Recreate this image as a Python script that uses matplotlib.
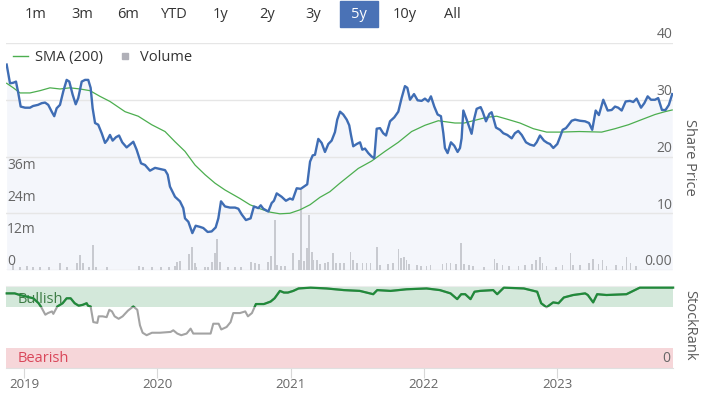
import numpy as np
import matplotlib
matplotlib.use("Agg")
import matplotlib.pyplot as plt
from matplotlib.patches import Rectangle
from matplotlib.lines import Line2D

plt.rcParams['font.family'] = ['Open Sans', 'DejaVu Sans']

# share price (years, price)
price_t = [2018.87, 2018.895, 2018.92, 2018.94, 2018.957, 2018.975, 2019.008, 2019.045, 2019.068, 2019.105,
           2019.133, 2019.158, 2019.182, 2019.208, 2019.227, 2019.245, 2019.27, 2019.295, 2019.32, 2019.34,
           2019.365, 2019.388, 2019.407, 2019.433, 2019.458, 2019.482, 2019.50, 2019.515, 2019.533, 2019.557,
           2019.583, 2019.608, 2019.625, 2019.645, 2019.665, 2019.69, 2019.713, 2019.737, 2019.77, 2019.795,
           2019.82, 2019.845, 2019.878, 2019.908, 2019.945, 2019.983, 2020.02, 2020.058, 2020.078, 2020.095,
           2020.133, 2020.17, 2020.195, 2020.208, 2020.233, 2020.263, 2020.288, 2020.32, 2020.345, 2020.378,
           2020.408, 2020.438, 2020.458, 2020.478, 2020.508, 2020.545, 2020.583, 2020.608, 2020.633, 2020.665,
           2020.70, 2020.725, 2020.758, 2020.776, 2020.795, 2020.833, 2020.858, 2020.875, 2020.896, 2020.933,
           2020.965, 2020.995, 2021.016, 2021.046, 2021.076, 2021.10, 2021.125, 2021.146, 2021.166, 2021.183,
           2021.208, 2021.233, 2021.258, 2021.283, 2021.308, 2021.333, 2021.35, 2021.371, 2021.395, 2021.421,
           2021.44, 2021.453, 2021.47, 2021.496, 2021.521, 2021.538, 2021.558, 2021.583, 2021.608, 2021.628,
           2021.646, 2021.671, 2021.695, 2021.716, 2021.746, 2021.778, 2021.808, 2021.833, 2021.858, 2021.876,
           2021.896, 2021.926, 2021.953, 2021.983, 2022.008, 2022.033, 2022.053, 2022.078, 2022.103, 2022.128,
           2022.146, 2022.158, 2022.178, 2022.203, 2022.228, 2022.253, 2022.271, 2022.283, 2022.296, 2022.321,
           2022.358, 2022.376, 2022.396, 2022.426, 2022.441, 2022.466, 2022.491, 2022.508, 2022.521, 2022.541,
           2022.571, 2022.596, 2022.626, 2022.659, 2022.683, 2022.708, 2022.734, 2022.766, 2022.796, 2022.826,
           2022.846, 2022.871, 2022.901, 2022.926, 2022.946, 2022.971, 2023.001, 2023.021, 2023.041, 2023.066,
           2023.083, 2023.109, 2023.134, 2023.171, 2023.209, 2023.239, 2023.263, 2023.289, 2023.313, 2023.346,
           2023.379, 2023.409, 2023.434, 2023.458, 2023.484, 2023.514, 2023.546, 2023.571, 2023.596, 2023.629,
           2023.654, 2023.679, 2023.704, 2023.734, 2023.758, 2023.786, 2023.813, 2023.838, 2023.863]
price = [36.2, 32.9, 33.0, 33.2, 31.2, 28.8, 28.6, 28.6, 28.9, 29.1,
         29.4, 29.5, 29.1, 27.9, 27.1, 28.5, 29.1, 31.5, 33.5, 33.2,
         30.9, 29.2, 30.3, 33.2, 33.5, 33.5, 32.1, 28.5, 25.9, 25.6,
         24.1, 22.4, 22.9, 23.8, 22.8, 23.4, 23.7, 22.5, 21.6, 22.1,
         22.6, 21.2, 18.8, 18.5, 17.5, 18.0, 17.8, 17.6, 16.8, 14.7,
         12.9, 12.1, 10.9, 9.1, 8.5, 6.5, 7.8, 7.6, 7.4, 6.7,
         6.8, 7.5, 9.1, 12.1, 11.2, 11.0, 11.0, 10.8, 9.8, 8.8,
         9.1, 11.2, 10.9, 11.4, 10.8, 10.3, 11.8, 12.2, 13.5, 12.9,
         12.2, 12.6, 12.4, 14.4, 14.3, 14.7, 15.1, 19.1, 20.2, 20.3,
         23.1, 22.4, 20.8, 22.2, 22.8, 24.3, 26.5, 27.9, 27.4, 26.5,
         25.5, 23.8, 21.8, 22.2, 22.5, 21.2, 21.4, 20.6, 20.0, 19.7,
         24.9, 25.0, 24.1, 23.7, 26.2, 26.9, 27.9, 30.3, 32.4, 32.1,
         30.0, 31.0, 29.9, 29.8, 30.2, 29.7, 30.6, 28.8, 27.4, 27.1,
         24.1, 21.5, 20.6, 22.5, 21.9, 20.8, 21.5, 23.2, 28.1, 26.5,
         24.0, 26.5, 28.4, 28.7, 27.9, 26.2, 27.5, 27.8, 26.8, 25.1,
         24.7, 24.1, 23.8, 23.2, 24.1, 24.5, 23.8, 22.5, 22.1, 21.9,
         22.5, 23.7, 22.8, 22.4, 22.2, 21.5, 22.2, 23.4, 24.7, 25.0,
         25.5, 26.3, 26.5, 26.3, 26.2, 25.9, 24.7, 28.1, 27.3, 30.0,
         28.1, 28.2, 28.8, 28.6, 28.1, 29.7, 29.8, 29.6, 30.2, 28.6,
         29.4, 30.6, 30.0, 30.0, 30.3, 28.2, 28.2, 29.1, 31.0]

# 200-day simple moving average
sma_t = [2018.87, 2018.92, 2018.97, 2019.045, 2019.12, 2019.195, 2019.27, 2019.345, 2019.42, 2019.495,
         2019.57, 2019.645, 2019.758, 2019.857, 2019.958, 2020.058, 2020.133, 2020.208, 2020.283, 2020.358,
         2020.433, 2020.508, 2020.62, 2020.695, 2020.77, 2020.845, 2020.92, 2020.995, 2021.07, 2021.146,
         2021.22, 2021.295, 2021.37, 2021.508, 2021.608, 2021.708, 2021.808, 2021.908, 2022.008, 2022.108,
         2022.233, 2022.303, 2022.37, 2022.47, 2022.546, 2022.621, 2022.721, 2022.821, 2022.921, 2023.021,
         2023.166, 2023.334, 2023.434, 2023.535, 2023.634, 2023.734, 2023.809, 2023.863]
sma = [32.9, 32.1, 31.2, 31.2, 31.6, 32.1, 31.9, 32.1, 31.9, 31.6,
       30.6, 29.7, 27.9, 27.1, 25.6, 24.4, 22.6, 20.9, 18.5, 16.8,
       15.3, 14.1, 12.6, 11.5, 10.8, 10.2, 9.9, 10.0, 10.6, 11.5,
       12.8, 13.8, 15.3, 17.9, 19.2, 20.9, 22.5, 24.4, 25.5, 26.3,
       25.9, 25.9, 26.3, 26.9, 27.1, 26.6, 25.9, 24.9, 24.3, 24.3,
       24.4, 24.3, 24.9, 25.6, 26.5, 27.4, 27.9, 28.2]

# volume (millions)
vol_t = [2018.92, 2018.97, 2019.02, 2019.07, 2019.12, 2019.19, 2019.27, 2019.32, 2019.40, 2019.42,
         2019.44, 2019.49, 2019.52, 2019.54, 2019.62, 2019.86, 2019.89, 2019.96, 2020.03, 2020.09,
         2020.13, 2020.15, 2020.17, 2020.24, 2020.26, 2020.28, 2020.29, 2020.36, 2020.38, 2020.41,
         2020.43, 2020.45, 2020.47, 2020.53, 2020.58, 2020.63, 2020.70, 2020.73, 2020.76, 2020.83,
         2020.85, 2020.88, 2020.90, 2020.93, 2020.96, 2021.02, 2021.06, 2021.07, 2021.08, 2021.10,
         2021.12, 2021.14, 2021.16, 2021.17, 2021.20, 2021.22, 2021.26, 2021.28, 2021.32, 2021.34,
         2021.37, 2021.40, 2021.45, 2021.47, 2021.50, 2021.54, 2021.57, 2021.60, 2021.65, 2021.67,
         2021.73, 2021.77, 2021.81, 2021.83, 2021.85, 2021.87, 2021.89, 2021.95, 2021.98, 2022.02,
         2022.05, 2022.14, 2022.17, 2022.20, 2022.24, 2022.28, 2022.30, 2022.34, 2022.37, 2022.45,
         2022.53, 2022.55, 2022.59, 2022.64, 2022.71, 2022.76, 2022.81, 2022.84, 2022.87, 2022.89,
         2022.92, 2022.99, 2023.04, 2023.10, 2023.12, 2023.17, 2023.24, 2023.27, 2023.31, 2023.34,
         2023.37, 2023.44, 2023.49, 2023.52, 2023.55, 2023.59]
vol = [2.2, 1.0, 1.5, 1.2, 1.2, 1.0, 2.7, 1.2, 2.7, 5.4,
       2.7, 1.0, 9.3, 1.0, 1.0, 1.5, 1.2, 1.0, 1.0, 1.2,
       1.5, 3.1, 3.5, 5.9, 8.4, 2.5, 1.0, 1.0, 1.2, 3.1,
       6.4, 11.4, 3.1, 1.0, 1.0, 1.0, 3.1, 2.5, 2.2, 3.1,
       5.2, 18.6, 1.9, 1.5, 1.5, 6.4, 3.7, 3.7, 29.7, 3.5,
       8.0, 20.4, 6.8, 3.7, 3.7, 2.2, 2.5, 3.1, 6.4, 2.5,
       2.7, 2.5, 6.8, 3.7, 2.5, 2.7, 2.5, 2.7, 8.7, 1.9,
       2.2, 2.5, 7.7, 4.3, 4.7, 3.7, 2.2, 1.9, 1.5, 1.5,
       1.9, 2.2, 2.5, 2.5, 2.2, 10.2, 2.2, 1.9, 1.5, 1.0,
       4.1, 2.7, 1.9, 1.5, 1.5, 1.9, 2.2, 3.7, 5.0, 2.7,
       1.5, 1.2, 1.9, 6.4, 1.9, 1.9, 2.5, 4.0, 2.2, 3.7,
       1.5, 1.9, 1.5, 4.7, 2.5, 1.5]

# StockRank (0-100)
rank_t = [2018.87, 2018.93, 2018.97, 2019.02, 2019.07, 2019.11, 2019.13, 2019.16, 2019.18, 2019.21,
          2019.22, 2019.25, 2019.27, 2019.29, 2019.32, 2019.35, 2019.38, 2019.41, 2019.44, 2019.47,
          2019.48, 2019.50, 2019.52, 2019.55, 2019.56, 2019.59, 2019.62, 2019.64, 2019.66, 2019.68,
          2019.71, 2019.74, 2019.78, 2019.82, 2019.85, 2019.87, 2019.89, 2019.92, 2019.96, 2020.02,
          2020.10, 2020.12, 2020.15, 2020.18, 2020.22, 2020.25, 2020.27, 2020.32, 2020.40, 2020.42,
          2020.46, 2020.48, 2020.52, 2020.55, 2020.57, 2020.62, 2020.66, 2020.68, 2020.71, 2020.74,
          2020.80, 2020.85, 2020.88, 2020.92, 2020.95, 2020.98, 2021.02, 2021.06, 2021.15, 2021.27,
          2021.40, 2021.52, 2021.62, 2021.65, 2021.75, 2021.87, 2022.02, 2022.12, 2022.20, 2022.25,
          2022.28, 2022.31, 2022.35, 2022.38, 2022.42, 2022.52, 2022.55, 2022.60, 2022.75, 2022.85,
          2022.88, 2022.92, 2022.97, 2023.01, 2023.05, 2023.12, 2023.21, 2023.23, 2023.27, 2023.30,
          2023.37, 2023.52, 2023.62, 2023.87]
rank = [91, 91, 89, 87, 85, 79, 74, 65, 67, 69,
        66, 75, 77, 79, 85, 85, 79, 76, 77, 79,
        76, 75, 56, 55, 63, 63, 62, 71, 69, 63,
        60, 63, 70, 75, 71, 52, 43, 40, 43, 43,
        44, 46, 42, 40, 42, 48, 42, 42, 42, 54,
        54, 47, 50, 56, 67, 67, 69, 63, 67, 78,
        78, 81, 85, 94, 92, 92, 94, 97, 98, 97,
        95, 94, 90, 95, 94, 96, 97, 95, 91, 84,
        90, 90, 84, 93, 94, 95, 90, 98, 97, 93,
        79, 74, 80, 79, 86, 89, 91, 89, 80, 90,
        89, 90, 98, 98]

years = [2019, 2020, 2021, 2022, 2023]
price_ticks = [0, 10, 20, 30, 40]
vol_ticks = [0, 12, 24, 36]
buttons = ["1m", "3m", "6m", "YTD", "1y", "2y", "3y", "5y", "10y", "All"]
button_x = [36, 82, 128, 174, 221, 267, 313, 359, 405, 452]

W, H = 707, 393
x0, x1 = 2018.865, 2023.869
blue = "#3f6db4"
grn = "#4cae4f"
txt = "#666666"

fig = plt.figure(figsize=(W / 100, H / 100), dpi=100)
ax = fig.add_axes([6 / W, 1 - 270 / H, 667 / W, 227 / H])
axv = ax.twinx()
axr = fig.add_axes([6 / W, 1 - 368 / H, 667 / W, 82 / H])

# main panel: fill + grid on the price axes, bars and lines on the twin on top
ax.set_xlim(x0, x1)
ax.set_ylim(0, 40)
ax.set_yticks(price_ticks)
ax.set_xticks([])
ax.yaxis.grid(True, color="#e6e6e6", lw=1)
ax.tick_params(length=0, labelleft=False, labelright=False)
axv.set_yticks([])
for a in (ax, axv):
    for s in a.spines.values():
        s.set_visible(False)

ax.fill_between(price_t, price, 0, color="#f4f6fb", lw=0, zorder=1)
axv.bar(vol_t, vol, width=0.014, color="#c8cad0", zorder=2)
axv.plot(sma_t, sma, color=grn, lw=0.9, transform=ax.transData, zorder=3)
axv.plot(price_t, price, color=blue, lw=1.7, transform=ax.transData, zorder=4,
         solid_joinstyle="round")
axv.set_xlim(x0, x1)
axv.set_ylim(0, 84.3)

for v in price_ticks:
    lab = "0.00" if v == 0 else str(v)
    ax.text(0.999, v + 0.1, lab, transform=ax.get_yaxis_transform(), ha="right",
            va="bottom", fontsize=10, color=txt, zorder=5)
for v in vol_ticks:
    lab = "0" if v == 0 else f"{v}m"
    axv.text(0.0015, v + 0.2, lab, transform=axv.get_yaxis_transform(), ha="left",
             va="bottom", fontsize=10, color=txt, zorder=5)

fig.text(690 / W, 1 - 157 / H, "Share Price", rotation=270, ha="center", va="center",
         fontsize=10.5, color="#5a5a5a")

# legend
leg_h = [Line2D([], [], color=grn, lw=1),
         Line2D([], [], color="#b0b0b8", marker="s", ms=5, lw=0)]
axv.legend(leg_h, ["SMA (200)", "Volume"], loc="upper left", bbox_to_anchor=(0.0, 1.0),
           ncol=2, frameon=False, fontsize=10.5, handlelength=1.0, handletextpad=0.5,
           columnspacing=1.0, borderaxespad=0.1, labelcolor="#333333")

# StockRank panel
axr.set_xlim(x0, x1)
axr.set_ylim(0, 100)
axr.axhspan(75, 100, color="#d3e8da", lw=0, zorder=0)
axr.axhspan(0, 25, color="#f6d6d9", lw=0, zorder=0)
axr.plot(rank_t, rank, color="#a3a3a3", lw=1.5, zorder=2)
gl, = axr.plot(rank_t, rank, color="#208a3a", lw=1.6, zorder=3)
clip = Rectangle((x0 - 1, 75), x1 - x0 + 2, 50, transform=axr.transData)
gl.set_clip_path(clip)
axr.text(0.018, 84, "Bullish", transform=axr.get_yaxis_transform(), fontsize=10.5,
         color="#3d7d45", va="center", ha="left", zorder=1)
axr.text(0.018, 11, "Bearish", transform=axr.get_yaxis_transform(), fontsize=10.5,
         color="#d9475a", va="center", ha="left", zorder=1)
axr.text(0.996, 11, "0", transform=axr.get_yaxis_transform(), fontsize=10,
         color=txt, va="center", ha="right")
axr.set_yticks([])
axr.set_xticks(years)
axr.set_xticklabels([str(y) for y in years], fontsize=9.5, color=txt)
axr.tick_params(axis="x", length=7, color="#d8d8d8", pad=0.5)
for k in ("left", "right"):
    axr.spines[k].set_visible(False)
axr.spines["top"].set_color("#ededed")
axr.spines["bottom"].set_color("#e0e0e0")
fig.text(690 / W, 1 - 325 / H, "StockRank", rotation=270, ha="center", va="center",
         fontsize=10.5, color="#5a5a5a")

# range buttons
fig.patches.append(Rectangle((340 / W, 1 - 27 / H), 38 / W, 26 / H, transform=fig.transFigure,
                             color="#4a72b6", zorder=0))
for lab, bx in zip(buttons, button_x):
    fig.text(bx / W, 1 - 14 / H, lab, ha="center", va="center", fontsize=10.5,
             color="white" if lab == "5y" else "#333333")

fig.savefig("out.png", dpi=100)
